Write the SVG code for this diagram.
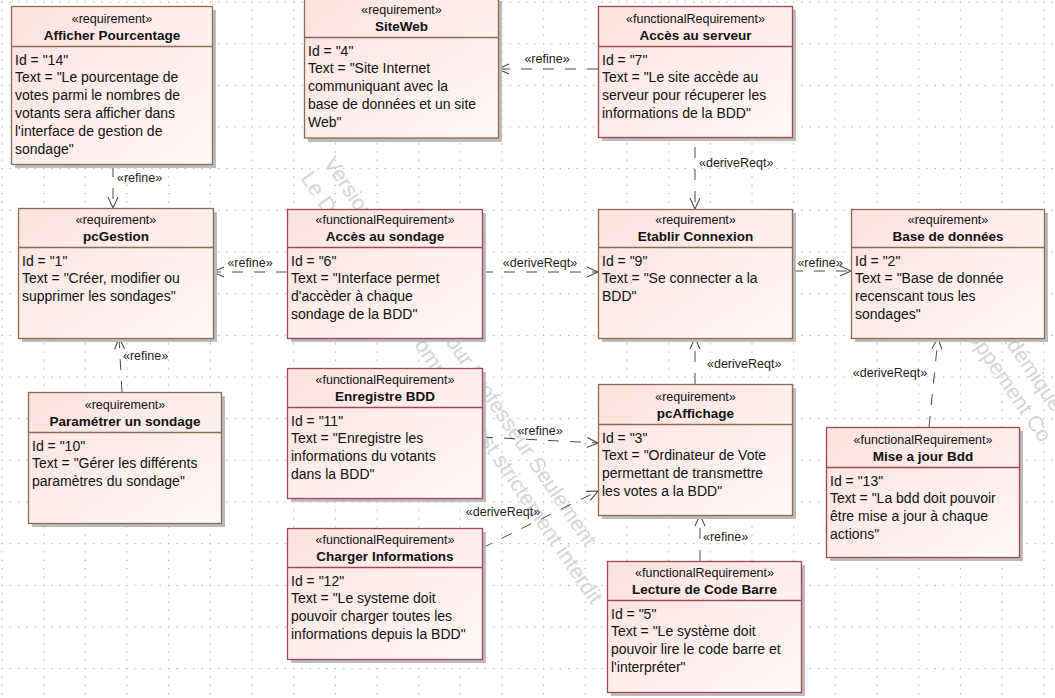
<svg xmlns="http://www.w3.org/2000/svg" width="1055" height="698" viewBox="0 0 1055 698">
<style>
text{font-family:"Liberation Sans",Arial,sans-serif;fill:#111}
.st{font-size:12.5px;text-anchor:middle}
.nm{font-size:13.5px;font-weight:bold;text-anchor:middle}
.bd{font-size:14px}
.lb{font-size:12.5px;fill:#222}
.lbm{font-size:12.5px;fill:#222;text-anchor:middle}
.sh{fill:#bcbcbc}
.box{fill:url(#fillg);stroke-width:1.3}
.req .box,.req .sep{stroke:#8e6a4e}
.fr .box,.fr .sep{stroke:#a2474f}
.sep{stroke-width:1.3}
.wm{font-size:21.5px;fill:#d4d4d4}
#connectors path{fill:none;stroke:#4a4a4a;stroke-width:1;stroke-dasharray:11 11}
</style>
<defs>
<linearGradient id="fillg" x1="0" y1="0" x2="1" y2="1">
<stop offset="0" stop-color="#fbe2de"/>
<stop offset="1" stop-color="#fff9f8"/>
</linearGradient>
<pattern id="grid" patternUnits="userSpaceOnUse" x="1.5" y="1.5" width="41.667" height="41.667">
<rect x="0" y="0" width="1" height="1" fill="#8a8a8a"/>
<rect x="8.333" y="0" width="1" height="1" fill="#8a8a8a"/>
<rect x="16.667" y="0" width="1" height="1" fill="#8a8a8a"/>
<rect x="25" y="0" width="1" height="1" fill="#8a8a8a"/>
<rect x="33.333" y="0" width="1" height="1" fill="#8a8a8a"/>
<rect x="0" y="8.333" width="1" height="1" fill="#8a8a8a"/>
<rect x="0" y="16.667" width="1" height="1" fill="#8a8a8a"/>
<rect x="0" y="25" width="1" height="1" fill="#8a8a8a"/>
<rect x="0" y="33.333" width="1" height="1" fill="#8a8a8a"/>
</pattern>
<marker id="arr" markerUnits="userSpaceOnUse" markerWidth="16" markerHeight="16" viewBox="-13 -8 16 16" refX="0" refY="0" orient="auto">
<path d="M-11,-5 L0,0 L-11,5" fill="none" stroke="#4a4a4a" stroke-width="1.1"/>
</marker>
</defs>
<rect x="0" y="0" width="1055" height="698" fill="#ffffff"/>
<rect x="0" y="0" width="1055" height="698" fill="url(#grid)"/>

<g id="watermark">
<text class="wm" transform="translate(323,163) rotate(55.7)">Version Académique Pour Professeur Seulement</text>
<text class="wm" transform="translate(300,178) rotate(55.7)">Le Développement Commercial est strictement interdit</text>
<text class="wm" transform="translate(942,251) rotate(55.7)">Version Académique</text>
<text class="wm" transform="translate(920,267) rotate(55.7)">Le Développement Co</text>
</g>

<g id="connectors">
<path d="M113,166 L113,208" marker-end="url(#arr)"/>
<text class="lb" x="117" y="182">«refine»</text>
<path d="M598,69 L498,69" marker-end="url(#arr)"/>
<text class="lbm" x="547" y="63">«refine»</text>
<path d="M695,147 L695,209" marker-end="url(#arr)"/>
<text class="lb" x="699" y="167">«deriveReqt»</text>
<path d="M287,272 L213,272" marker-end="url(#arr)"/>
<text class="lbm" x="250" y="267">«refine»</text>
<path d="M482,272 L598,272" marker-end="url(#arr)"/>
<text class="lbm" x="540" y="267">«deriveReqt»</text>
<path d="M792,271 L851,271" marker-end="url(#arr)"/>
<text class="lbm" x="820" y="267">«refine»</text>
<path d="M695,384 L695,338" marker-end="url(#arr)"/>
<text class="lb" x="707" y="368">«deriveReqt»</text>
<path d="M122,392 L119,338" marker-end="url(#arr)"/>
<text class="lb" x="123" y="360">«refine»</text>
<path d="M482,437 L598,443" marker-end="url(#arr)"/>
<text class="lbm" x="540" y="435">«refine»</text>
<path d="M482,548 L598,491" marker-end="url(#arr)"/>
<text class="lbm" x="503" y="516">«deriveReqt»</text>
<path d="M700,561 L700,515" marker-end="url(#arr)"/>
<text class="lb" x="703" y="541">«refine»</text>
<path d="M929,427 L938,338" marker-end="url(#arr)"/>
<text class="lbm" x="890" y="377">«deriveReqt»</text>
</g>

<g id="n14" class="req">
<rect class="sh" x="15" y="10" width="201" height="158"/>
<rect class="box" x="11.5" y="6.5" width="201" height="158"/>
<line class="sep" x1="11.5" y1="46.5" x2="212.5" y2="46.5"/>
<text class="st" x="112" y="23">«requirement»</text>
<text class="nm" x="112" y="40">Afficher Pourcentage</text>
<text class="bd" x="15" y="64.5">Id = "14"<tspan x="15" dy="17.8">Text = "Le pourcentage de</tspan><tspan x="15" dy="17.8">votes parmi le nombres de</tspan><tspan x="15" dy="17.8">votants sera afficher dans</tspan><tspan x="15" dy="17.8">l'interface de gestion de</tspan><tspan x="15" dy="17.8">sondage"</tspan></text>
</g>

<g id="n4" class="req">
<rect class="sh" x="308" y="1" width="194" height="141"/>
<rect class="box" x="304.5" y="-3.5" width="194" height="141.5"/>
<line class="sep" x1="304.5" y1="37.5" x2="498.5" y2="37.5"/>
<text class="st" x="401.5" y="14">«requirement»</text>
<text class="nm" x="401.5" y="31">SiteWeb</text>
<text class="bd" x="308" y="55.5">Id = "4"<tspan x="308" dy="17.8">Text = "Site Internet</tspan><tspan x="308" dy="17.8">communiquant avec la</tspan><tspan x="308" dy="17.8">base de données et un site</tspan><tspan x="308" dy="17.8">Web"</tspan></text>
</g>

<g id="n7" class="fr">
<rect class="sh" x="602" y="10" width="194" height="131"/>
<rect class="box" x="598.5" y="6.5" width="194" height="131"/>
<line class="sep" x1="598.5" y1="46.5" x2="792.5" y2="46.5"/>
<text class="st" x="695.5" y="23">«functionalRequirement»</text>
<text class="nm" x="695.5" y="40">Accès au serveur</text>
<text class="bd" x="602" y="64.5">Id = "7"<tspan x="602" dy="17.8">Text = "Le site accède au</tspan><tspan x="602" dy="17.8">serveur pour récuperer les</tspan><tspan x="602" dy="17.8">informations de la BDD"</tspan></text>
</g>

<g id="n1" class="req">
<rect class="sh" x="22" y="212" width="195" height="130"/>
<rect class="box" x="18.5" y="208.5" width="195" height="130"/>
<line class="sep" x1="18.5" y1="247.5" x2="213.5" y2="247.5"/>
<text class="st" x="116" y="224">«requirement»</text>
<text class="nm" x="116" y="241">pcGestion</text>
<text class="bd" x="22" y="265.5">Id = "1"<tspan x="22" dy="17.8">Text = "Créer, modifier ou</tspan><tspan x="22" dy="17.8">supprimer les sondages"</tspan></text>
</g>

<g id="n6" class="fr">
<rect class="sh" x="291" y="213" width="195" height="129"/>
<rect class="box" x="287.5" y="209.5" width="195" height="129"/>
<line class="sep" x1="287.5" y1="247.5" x2="482.5" y2="247.5"/>
<text class="st" x="385" y="224">«functionalRequirement»</text>
<text class="nm" x="385" y="241">Accès au sondage</text>
<text class="bd" x="291" y="265.5">Id = "6"<tspan x="291" dy="17.8">Text = "Interface permet</tspan><tspan x="291" dy="17.8">d'accèder à chaque</tspan><tspan x="291" dy="17.8">sondage de la BDD"</tspan></text>
</g>

<g id="n9" class="req">
<rect class="sh" x="602" y="213" width="194" height="129"/>
<rect class="box" x="598.5" y="209.5" width="194" height="129"/>
<line class="sep" x1="598.5" y1="247.5" x2="792.5" y2="247.5"/>
<text class="st" x="695.5" y="224">«requirement»</text>
<text class="nm" x="695.5" y="241">Etablir Connexion</text>
<text class="bd" x="602" y="265.5">Id = "9"<tspan x="602" dy="17.8">Text = "Se connecter a la</tspan><tspan x="602" dy="17.8">BDD"</tspan></text>
</g>

<g id="n2" class="req">
<rect class="sh" x="855" y="213" width="193" height="129"/>
<rect class="box" x="851.5" y="209.5" width="193" height="129"/>
<line class="sep" x1="851.5" y1="247.5" x2="1044.5" y2="247.5"/>
<text class="st" x="948" y="224">«requirement»</text>
<text class="nm" x="948" y="241">Base de données</text>
<text class="bd" x="855" y="265.5">Id = "2"<tspan x="855" dy="17.8">Text = "Base de donnée</tspan><tspan x="855" dy="17.8">recenscant tous les</tspan><tspan x="855" dy="17.8">sondages"</tspan></text>
</g>

<g id="n10" class="req">
<rect class="sh" x="32" y="396" width="193" height="131"/>
<rect class="box" x="28.5" y="392.5" width="193" height="131"/>
<line class="sep" x1="28.5" y1="432.5" x2="221.5" y2="432.5"/>
<text class="st" x="125" y="409">«requirement»</text>
<text class="nm" x="125" y="426">Paramétrer un sondage</text>
<text class="bd" x="32" y="450.5">Id = "10"<tspan x="32" dy="17.8">Text = "Gérer les différents</tspan><tspan x="32" dy="17.8">paramètres du sondage"</tspan></text>
</g>

<g id="n11" class="fr">
<rect class="sh" x="291" y="372" width="195" height="130"/>
<rect class="box" x="287.5" y="368.5" width="195" height="130"/>
<line class="sep" x1="287.5" y1="407.5" x2="482.5" y2="407.5"/>
<text class="st" x="385" y="384">«functionalRequirement»</text>
<text class="nm" x="385" y="401">Enregistre BDD</text>
<text class="bd" x="291" y="425.5">Id = "11"<tspan x="291" dy="17.8">Text = "Enregistre  les</tspan><tspan x="291" dy="17.8">informations du votants</tspan><tspan x="291" dy="17.8">dans la BDD"</tspan></text>
</g>

<g id="n12" class="fr">
<rect class="sh" x="291" y="532" width="195" height="131"/>
<rect class="box" x="287.5" y="528.5" width="195" height="131"/>
<line class="sep" x1="287.5" y1="567.5" x2="482.5" y2="567.5"/>
<text class="st" x="385" y="544">«functionalRequirement»</text>
<text class="nm" x="385" y="561">Charger Informations</text>
<text class="bd" x="291" y="585.5">Id = "12"<tspan x="291" dy="17.8">Text = "Le systeme doit</tspan><tspan x="291" dy="17.8">pouvoir charger toutes les</tspan><tspan x="291" dy="17.8">informations depuis la BDD"</tspan></text>
</g>

<g id="n3" class="req">
<rect class="sh" x="602" y="388" width="194" height="131"/>
<rect class="box" x="598.5" y="384.5" width="194" height="131"/>
<line class="sep" x1="598.5" y1="424.5" x2="792.5" y2="424.5"/>
<text class="st" x="695.5" y="401">«requirement»</text>
<text class="nm" x="695.5" y="418">pcAffichage</text>
<text class="bd" x="602" y="442.5">Id = "3"<tspan x="602" dy="17.8">Text = "Ordinateur de Vote</tspan><tspan x="602" dy="17.8">permettant de transmettre</tspan><tspan x="602" dy="17.8">les votes a la BDD"</tspan></text>
</g>

<g id="n13" class="fr">
<rect class="sh" x="830" y="431" width="193" height="130"/>
<rect class="box" x="826.5" y="427.5" width="193" height="130"/>
<line class="sep" x1="826.5" y1="467.5" x2="1019.5" y2="467.5"/>
<text class="st" x="923" y="444">«functionalRequirement»</text>
<text class="nm" x="923" y="461">Mise a jour Bdd</text>
<text class="bd" x="830" y="485.5">Id = "13"<tspan x="830" dy="17.8">Text = "La bdd doit pouvoir</tspan><tspan x="830" dy="17.8">être mise a jour à chaque</tspan><tspan x="830" dy="17.8">actions"</tspan></text>
</g>

<g id="n5" class="fr">
<rect class="sh" x="611" y="565" width="194" height="131"/>
<rect class="box" x="607.5" y="561.5" width="194" height="131"/>
<line class="sep" x1="607.5" y1="600.5" x2="801.5" y2="600.5"/>
<text class="st" x="704.5" y="577">«functionalRequirement»</text>
<text class="nm" x="704.5" y="594">Lecture de Code Barre</text>
<text class="bd" x="611" y="618.5">Id = "5"<tspan x="611" dy="17.8">Text = "Le système doit</tspan><tspan x="611" dy="17.8">pouvoir lire le code barre et</tspan><tspan x="611" dy="17.8">l'interpréter"</tspan></text>
</g>
</svg>
